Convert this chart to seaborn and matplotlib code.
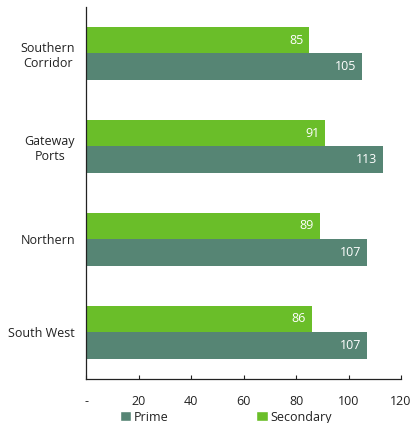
import matplotlib
matplotlib.use("Agg")
import matplotlib.pyplot as plt
from matplotlib.patches import Patch
import seaborn as sns
import pandas as pd

regions = ["Southern\nCorridor", "Gateway\nPorts", "Northern", "South West"]
secondary = [85, 91, 89, 86]
prime = [105, 113, 107, 107]
x_ticks = [0, 20, 40, 60, 80, 100, 120]
x_tick_labels = ["-", "20", "40", "60", "80", "100", "120"]

green = "#6abe29"
teal = "#568574"

df = pd.DataFrame({
    "region": regions * 2,
    "value": secondary + prime,
    "grade": ["Secondary"] * len(regions) + ["Prime"] * len(regions),
})

sns.set_theme(style="white")
plt.rcParams["font.family"] = ["Open Sans", "DejaVu Sans"]

fig = plt.figure(figsize=(4.11, 4.23), dpi=100)
ax = fig.add_axes([86 / 411, 1 - 378.5 / 423, (401 - 86) / 411, (378.5 - 7) / 423])

sns.barplot(data=df, y="region", x="value", hue="grade",
            hue_order=["Secondary", "Prime"], palette=[green, teal],
            order=regions, orient="h", width=0.57, saturation=1,
            linewidth=0, ax=ax, legend=False)

for container in ax.containers:
    for patch in container:
        w = patch.get_width()
        y = patch.get_y() + patch.get_height() / 2
        ax.annotate(f"{w:.0f}", (w, y), xytext=(-4, 0), textcoords="offset points",
                    ha="right", va="center", color="white", fontsize=9)

ax.set_xlim(0, 120)
ax.set_ylim(3.5, -0.5)
ax.set_xticks(x_ticks)
ax.set_xticklabels(x_tick_labels)
ax.set_xlabel("")
ax.set_ylabel("")

for side in ["top", "right"]:
    ax.spines[side].set_visible(False)
for side in ["left", "bottom"]:
    ax.spines[side].set_color("#222222")
    ax.spines[side].set_linewidth(0.9)

ax.tick_params(axis="x", direction="in", length=3, width=0.8, color="#222222",
               pad=12, labelsize=9, labelcolor="#222222", bottom=True)
ax.tick_params(axis="y", length=0, pad=8, labelsize=9, labelcolor="#222222")
for lbl in ax.get_yticklabels():
    lbl.set_multialignment("center")

handles = [Patch(facecolor=teal, label="Prime"), Patch(facecolor=green, label="Secondary")]
fig.legend(handles=handles, loc="center", bbox_to_anchor=(0.55, 1 - 417 / 423),
           ncol=2, frameon=False, fontsize=9, handlelength=0.9, handleheight=0.9,
           handletextpad=0.25, columnspacing=7.0, labelcolor="#222222")

fig.savefig("out.png", dpi=100)
